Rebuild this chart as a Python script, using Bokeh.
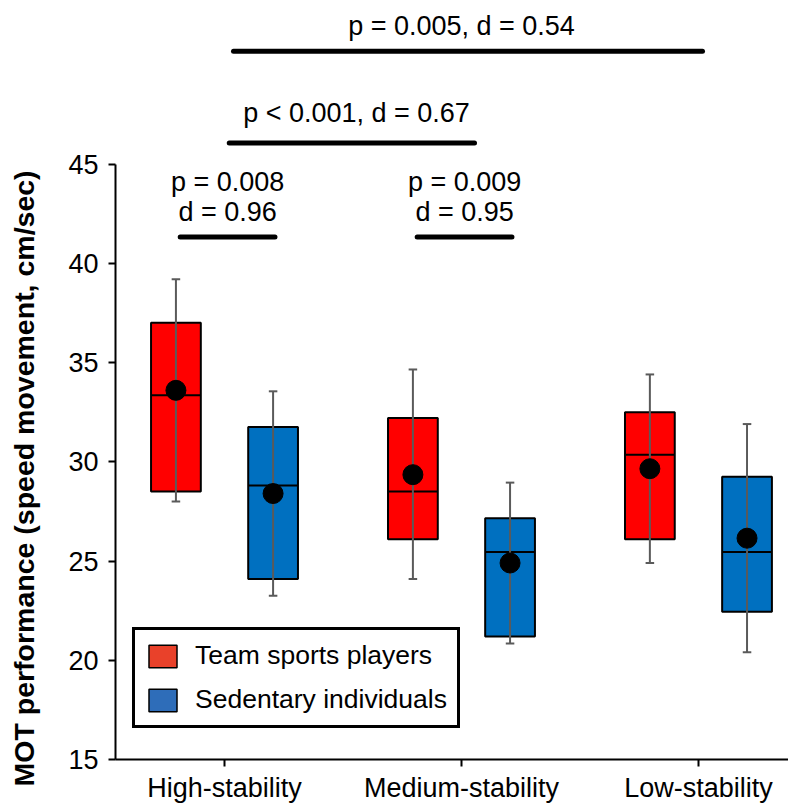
from bokeh.plotting import figure
from bokeh.models import (ColumnDataSource, Range1d, FixedTicker, Label, Legend, LegendItem, Title)
from bokeh.embed import file_html
from bokeh.resources import INLINE

# ---------------- data ----------------
categories = ["High-stability", "Medium-stability", "Low-stability"]
cat_pos = [1, 2, 3]

team_q1 = [28.5, 26.1, 26.1]
team_q3 = [37.0, 32.2, 32.5]
team_median = [33.35, 28.5, 30.35]
team_mean = [33.6, 29.35, 29.65]
team_low = [28.0, 24.1, 24.9]
team_high = [39.2, 34.65, 34.4]

sed_q1 = [24.1, 21.2, 22.45]
sed_q3 = [31.75, 27.15, 29.25]
sed_median = [28.8, 25.45, 25.45]
sed_mean = [28.4, 24.9, 26.15]
sed_low = [23.25, 20.85, 20.4]
sed_high = [33.55, 28.95, 31.9]

series_names = ["Team sports players", "Sedentary individuals"]
y_title = "MOT performance (speed movement, cm/sec)"

pair_texts = [["p = 0.008", "d = 0.96"], ["p = 0.009", "d = 0.95"]]
span_texts = ["p < 0.001, d = 0.67", "p = 0.005, d = 0.54"]

# ---------------- styles ----------------
FONT = "Liberation Sans"
FS = "27px"
BOX_COLORS = ["#FF0000", "#0070C0"]
SWATCH_COLORS = ["#E9412A", "#2E6DB9"]
WHISKER_COLOR = "#5A5A5A"
OFFSET = 0.205
BOX_W = 0.21
CAP = 0.018

p = figure(width=788, height=805, output_backend="svg", toolbar_location=None,
           x_range=Range1d(0.54, 3.38), y_range=Range1d(15, 53.24),
           min_border_left=115, min_border_right=0, min_border_top=0,
           min_border_bottom=44)
p.outline_line_color = None
p.xgrid.visible = False
p.ygrid.visible = False
p.background_fill_color = "white"
p.border_fill_color = "white"

groups = [
    (team_q1, team_q3, team_median, team_mean, team_low, team_high, -OFFSET),
    (sed_q1, sed_q3, sed_median, sed_mean, sed_low, sed_high, OFFSET),
]

legend_items = []
for gi, (q1, q3, med, mean, lo, hi, off) in enumerate(groups):
    xs = [c + off for c in cat_pos]
    src = ColumnDataSource(dict(
        x=xs, q1=q1, q3=q3, med=med, mean=mean, lo=lo, hi=hi,
        xl=[x - BOX_W / 2 for x in xs], xr=[x + BOX_W / 2 for x in xs],
        cl=[x - CAP for x in xs], cr=[x + CAP for x in xs],
    ))
    p.vbar(x="x", width=BOX_W, bottom="q1", top="q3", source=src,
           fill_color=BOX_COLORS[gi], line_color="black", line_width=2)
    p.segment(x0="xl", x1="xr", y0="med", y1="med", source=src,
              line_color="black", line_width=2)
    p.segment(x0="x", x1="x", y0="lo", y1="hi", source=src,
              line_color=WHISKER_COLOR, line_width=2)
    p.segment(x0="cl", x1="cr", y0="hi", y1="hi", source=src,
              line_color=WHISKER_COLOR, line_width=2)
    p.segment(x0="cl", x1="cr", y0="lo", y1="lo", source=src,
              line_color=WHISKER_COLOR, line_width=2)
    p.scatter(x="x", y="mean", source=src, size=20, marker="circle",
              fill_color="black", line_color="black")
    # legend swatch renderer (hidden on the plot, shown only in the legend)
    r = p.vbar(x="x", width=BOX_W, bottom="q1", top="q3", source=src,
               fill_color=SWATCH_COLORS[gi], line_color="black", line_width=1.5,
               visible=False)
    legend_items.append(LegendItem(label=series_names[gi], renderers=[r]))

legend = Legend(items=legend_items, location=(17, 31), glyph_width=35, glyph_height=28,
                label_text_font_size="26.5px", label_text_font=FONT, label_text_color="black",
                label_standoff=15, padding=10, spacing=13, margin=0,
                border_line_color="black", border_line_alpha=1, border_line_width=3,
                background_fill_color="white", background_fill_alpha=1,
                inactive_fill_alpha=0)
p.add_layout(legend)

# significance brackets
bar_kw = dict(line_color="black", line_width=5, line_cap="round")
lab_kw = dict(text_align="center", text_baseline="middle", text_font=FONT,
              text_font_size=FS, text_color="black")
for ci, texts in enumerate(pair_texts):
    c = cat_pos[ci] + 0.013
    p.line(x=[c - 0.2, c + 0.2], y=[41.33, 41.33], **bar_kw)
    p.add_layout(Label(x=c, y=44.1, text=texts[0], **lab_kw))
    p.add_layout(Label(x=c, y=42.59, text=texts[1], **lab_kw))
p.line(x=[cat_pos[0] + 0.02, cat_pos[1] + 0.055], y=[46.06, 46.06], **bar_kw)
p.add_layout(Label(x=1.557, y=47.55, text=span_texts[0], **lab_kw))
p.line(x=[cat_pos[0] + 0.038, cat_pos[2] + 0.017], y=[50.68, 50.68], **bar_kw)
p.add_layout(Label(x=2.0, y=51.95, text=span_texts[1], **lab_kw))

# axes
yax = p.yaxis[0]
yax.bounds = (15, 45)
yax.ticker = FixedTicker(ticks=[15, 20, 25, 30, 35, 40, 45])
yax.axis_line_width = 2
yax.axis_line_color = "black"
yax.major_tick_out = 7
yax.major_tick_in = 0
yax.major_tick_line_width = 2
yax.minor_tick_line_color = None
yax.major_label_text_font = FONT
yax.major_label_text_font_size = FS
yax.major_label_text_color = "black"
yax.major_label_standoff = 10
# spacer so that the vertical title sits at the far left
yax.axis_label = " "
yax.axis_label_text_font_size = "1px"
yax.axis_label_standoff = 21

xax = p.xaxis[0]
xax.ticker = FixedTicker(ticks=cat_pos)
xax.major_label_overrides = {c: n for c, n in zip(cat_pos, categories)}
xax.axis_line_width = 2
xax.axis_line_color = "black"
xax.major_tick_out = 7
xax.major_tick_in = 0
xax.major_tick_line_width = 2
xax.minor_tick_line_color = None
xax.major_label_text_font = FONT
xax.major_label_text_font_size = FS
xax.major_label_text_color = "black"
xax.major_label_standoff = 6

ytitle = Title(text=y_title, align="left", offset=-27, vertical_align="middle", standoff=0,
               text_font=FONT, text_font_size="28.5px", text_font_style="bold",
               text_color="black")
p.add_layout(ytitle, "left")

open("out.html", "w").write(file_html(p, INLINE))
